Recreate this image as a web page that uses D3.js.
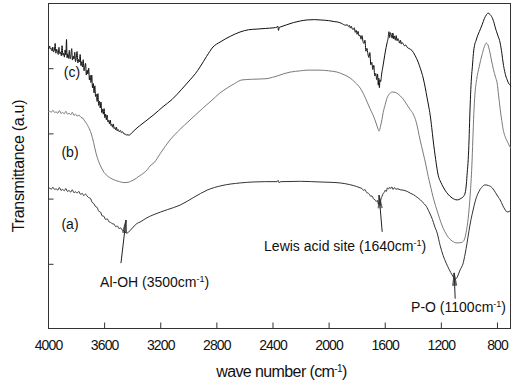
<!DOCTYPE html>
<html>
<head>
<meta charset="utf-8">
<script src="https://cdn.jsdelivr.net/npm/d3@7"></script>
<style>
  html, body { margin: 0; padding: 0; background: #fff; }
  svg { display: block; font-family: Arial, "Liberation Sans", sans-serif; }
</style>
</head>
<body>
<svg id="chart" width="516" height="384"></svg>
<script>
// FTIR spectra: [wavenumber (cm-1), transmittance (a.u.)]
const seriesC = [
  [4000,86.2],[3994,86.0],[3988,86.8],[3983,85.9],[3977,86.1],[3971,85.3],[3966,86.5],[3961,85.0],
  [3955,85.4],[3949,87.6],[3944,84.6],[3938,85.8],[3933,85.1],[3927,84.2],[3922,86.4],[3916,84.5],
  [3911,85.0],[3905,83.8],[3900,86.9],[3894,84.0],[3889,84.6],[3883,83.4],[3878,85.6],[3873,84.1],
  [3868,88.8],[3864,83.2],[3859,84.4],[3853,83.0],[3848,85.5],[3842,82.9],[3837,83.9],[3831,86.0],
  [3826,82.5],[3820,83.7],[3815,82.8],[3809,84.9],[3804,82.0],[3798,83.3],[3793,85.1],[3787,81.6],
  [3782,82.7],[3776,81.9],[3771,84.2],[3765,80.8],[3760,82.0],[3754,80.4],[3749,82.6],[3743,79.2],
  [3738,80.3],[3732,81.5],[3727,77.9],[3721,79.4],[3716,78.2],[3710,80.0],[3705,76.4],[3699,77.8],
  [3694,75.6],[3688,77.9],[3683,74.0],[3677,75.3],[3672,72.4],[3666,74.6],[3661,71.3],[3655,72.0],
  [3650,69.8],[3644,72.2],[3639,68.6],[3633,69.9],[3628,67.8],[3622,69.6],[3617,66.4],[3611,67.5],
  [3606,65.9],[3600,67.6],[3595,64.8],[3589,65.9],[3584,64.2],[3578,65.6],[3573,63.5],[3567,64.0],
  [3562,62.9],[3556,64.1],[3551,62.4],[3545,62.8],[3540,61.9],[3534,62.9],[3529,61.5],[3523,61.8],
  [3518,61.1],[3512,61.9],[3507,60.8],[3500,61.2],[3492,60.5],[3484,60.9],[3476,60.2],[3468,60.5],
  [3460,59.9],[3450,59.8],[3440,59.5],[3430,59.6],[3422,59.4],
  [3405,60.1],[3385,60.9],[3365,61.7],[3330,62.9],[3294,64.1],[3244,65.8],[3180,68.2],[3116,70.4],
  [3050,73.4],[2988,76.4],[2950,78.3],[2916,80.4],[2870,83.6],[2824,86.5],[2774,88.0],[2700,89.8],
  [2631,91.1],[2570,91.8],[2510,92.0],[2450,92.2],[2390,92.4],[2368,92.6],[2362,92.9],[2357,91.6],
  [2352,92.5],[2340,92.7],[2300,93.3],[2250,94.0],[2200,94.5],[2153,94.8],[2100,94.9],[2061,94.8],
  [2000,94.6],[1960,94.3],[1939,94.2],[1910,93.8],[1880,93.2],[1866,93.3],[1859,92.8],[1851,93.1],
  [1845,92.3],[1838,92.9],[1831,92.0],[1824,91.9],[1817,92.4],[1810,91.0],[1803,91.6],[1797,90.4],
  [1790,91.3],[1783,89.9],[1776,90.1],[1769,88.9],[1762,90.0],[1755,88.2],[1748,87.6],[1741,88.6],
  [1734,85.2],[1727,86.1],[1720,84.4],[1713,83.3],[1706,84.8],[1699,81.0],[1692,81.8],[1685,79.6],
  [1678,80.9],[1671,77.6],[1664,78.4],[1657,76.5],[1651,78.2],[1646,74.8],[1642,76.9],[1638,74.0],
  [1634,76.4],[1629,75.9],[1622,78.2],[1611,81.0],[1600,84.0],[1590,86.4],[1583,87.8],[1576,89.2],
  [1570,91.2],[1565,89.4],[1559,90.9],[1553,90.2],[1547,89.2],[1542,90.8],[1536,89.0],[1530,89.9],
  [1524,88.6],[1518,90.0],[1512,88.4],[1506,89.1],[1500,88.5],[1494,87.7],[1488,88.6],[1482,87.4],
  [1476,87.9],[1469,87.5],[1460,86.9],[1450,87.1],[1440,86.4],[1425,86.0],[1405,85.4],[1385,84.0],
  [1362,81.9],[1345,79.8],[1326,77.0],[1312,74.2],[1298,70.9],[1287,68.4],[1276,65.6],[1265,61.8],
  [1255,58.0],[1237,52.0],[1219,47.2],[1200,45.0],[1184,43.6],[1150,41.4],[1120,40.2],[1084,39.6],
  [1055,40.1],[1040,40.6],[1027,41.7],[1018,44.5],[1012,48.0],[1005,52.0],[999,58.0],[994,65.0],
  [988,72.0],[982,77.0],[975,80.6],[968,84.5],[960,87.0],[950,88.4],[941,89.6],[925,91.3],
  [906,93.3],[890,95.2],[875,96.4],[863,96.9],[850,96.5],[834,95.5],[820,93.8],[813,92.6],
  [795,90.2],[777,87.7],[765,84.5],[756,81.6],[745,79.0],[735,77.3],[727,76.4],[715,75.2],
  [706,74.8],[700,74.5]
];

const seriesB = [
  [4000,66.6],[3988,66.8],[3976,66.5],[3965,67.1],[3953,66.4],[3942,66.6],[3930,66.2],[3919,67.0],
  [3907,66.1],[3896,66.4],[3884,66.0],[3873,66.8],[3861,65.9],[3850,66.2],[3838,65.7],[3827,66.5],
  [3815,65.5],[3804,65.9],[3793,65.3],[3780,65.6],[3765,64.9],[3750,64.6],[3743,64.1],[3725,63.0],
  [3710,61.8],[3693,60.1],[3675,57.2],[3658,54.0],[3640,51.5],[3622,49.7],[3600,48.0],[3575,46.9],
  [3551,46.2],[3520,45.6],[3490,45.2],[3458,44.9],[3430,45.0],[3410,45.3],[3387,45.8],[3350,46.9],
  [3316,47.9],[3290,49.0],[3273,50.0],[3244,51.0],[3200,53.8],[3130,58.0],[3060,61.2],[2988,64.1],
  [2900,67.6],[2831,70.2],[2780,72.2],[2724,73.9],[2670,75.3],[2617,76.4],[2550,76.6],[2480,76.7],
  [2439,76.8],[2400,77.2],[2367,77.6],[2320,78.3],[2275,78.8],[2200,79.2],[2153,79.4],[2061,79.4],
  [2000,79.2],[1939,78.8],[1890,78.0],[1847,77.0],[1810,75.6],[1775,73.9],[1750,72.0],[1725,69.6],
  [1705,67.6],[1683,65.6],[1662,63.2],[1648,61.4],[1640,60.7],[1630,62.2],[1620,64.2],[1611,66.4],
  [1597,68.8],[1583,70.9],[1565,72.2],[1547,72.7],[1526,72.6],[1505,72.1],[1470,70.6],[1440,68.7],
  [1420,67.4],[1398,66.0],[1375,63.4],[1348,58.0],[1326,54.0],[1305,50.0],[1290,46.8],[1276,44.2],
  [1250,39.6],[1226,36.2],[1190,31.6],[1155,28.6],[1120,27.0],[1084,26.4],[1055,26.5],[1035,27.2],
  [1020,29.6],[1005,34.0],[991,41.1],[979,50.0],[972,58.0],[965,66.0],[957,72.0],[945,76.5],
  [927,80.4],[906,84.2],[890,86.6],[877,87.7],[865,87.2],[852,85.2],[841,82.8],[825,79.6],
  [810,77.2],[799,75.5],[788,71.5],[777,67.4],[766,64.0],[756,61.2],[745,59.4],[734,58.2],
  [720,57.0],[710,56.0],[700,55.5]
];

const seriesA = [
  [4000,43.0],[3988,43.2],[3976,42.9],[3965,43.5],[3953,42.8],[3942,43.0],[3930,42.6],[3919,43.4],
  [3907,42.5],[3896,42.8],[3884,42.4],[3873,43.1],[3861,42.2],[3850,42.5],[3838,42.0],[3827,42.7],
  [3815,41.8],[3804,42.1],[3793,41.7],[3780,42.2],[3768,41.3],[3756,41.6],[3745,40.9],[3733,41.4],
  [3722,40.8],[3710,40.3],[3698,40.1],[3686,38.9],[3674,38.5],[3662,37.6],[3650,37.3],[3638,36.1],
  [3626,35.9],[3614,34.7],[3602,34.6],[3590,33.6],[3578,33.8],[3566,32.9],[3554,32.7],[3542,32.3],
  [3530,32.2],[3518,31.4],[3506,31.6],[3494,30.8],[3482,31.0],[3470,30.3],[3458,30.1],[3446,29.6],
  [3437,29.4],[3425,29.8],[3410,30.4],[3395,31.2],[3380,31.8],[3365,32.4],[3344,32.8],[3300,34.0],
  [3251,35.0],[3150,36.6],[3059,38.0],[2960,40.4],[2866,42.6],[2760,44.0],[2631,44.8],[2538,45.1],
  [2450,45.2],[2367,45.2],[2360,45.6],[2354,44.9],[2340,45.2],[2200,45.3],[2061,45.1],[1990,45.0],
  [1918,44.8],[1850,44.3],[1800,43.7],[1775,43.3],[1762,43.1],[1751,42.5],[1741,42.8],[1730,41.9],
  [1720,41.7],[1710,41.4],[1700,40.7],[1690,40.8],[1680,39.9],[1670,39.7],[1660,39.1],[1652,39.5],
  [1645,38.3],[1640,38.9],[1634,37.9],[1628,39.6],[1620,40.6],[1611,41.6],[1603,41.9],[1596,42.6],
  [1589,42.2],[1581,43.3],[1573,42.9],[1565,43.5],[1557,43.1],[1549,43.6],[1541,42.8],[1531,43.4],
  [1521,42.9],[1506,43.0],[1490,42.7],[1469,42.6],[1440,42.2],[1419,41.7],[1395,41.2],[1369,40.4],
  [1345,39.6],[1326,38.7],[1310,38.0],[1298,37.2],[1280,35.6],[1260,33.6],[1245,31.6],[1226,29.4],
  [1205,25.6],[1184,22.6],[1162,20.2],[1140,18.2],[1120,16.6],[1105,15.6],[1098,15.2],[1085,15.8],
  [1063,18.1],[1041,20.2],[1027,23.0],[1013,26.4],[1000,30.0],[985,33.6],[970,36.5],[955,39.2],
  [934,41.7],[910,43.4],[885,44.2],[860,44.0],[834,43.3],[810,41.8],[790,40.4],[777,39.6],
  [760,38.0],[745,36.8],[727,35.9],[715,36.0],[700,36.5]
];

const xTickValues = [4000, 3600, 3200, 2800, 2400, 2000, 1600, 1200, 800];
const yTickValues = [20, 40, 60, 80];

// sample curves, bottom to top
const spectra = [
  { name: "(a)", data: seriesA, color: "#333", labelAt: [3843, 30.7] },
  { name: "(b)", data: seriesB, color: "#7a7a7a", labelAt: [3843, 52.8] },
  { name: "(c)", data: seriesC, color: "#111", labelAt: [3829, 77.3] }
];

// band assignments with arrows (tail -> tip, in wavenumber / transmittance)
const bands = [
  { text: "Al-OH (3500cm", textAt: [3629, 12.9], tail: [3480, 20.2], tip: [3444, 33.4] },
  { text: "Lewis acid site (1640cm", textAt: [2460, 23.9], tail: [1618, 29.8], tip: [1640, 41.0] },
  { text: "P-O (1100cm", textAt: [1412, 5.2], tail: [1098, 9.3], tip: [1105, 17.2] }
];

const W = 516, H = 384;
const margin = { top: 3, right: 5, bottom: 55, left: 48 };
const svg = d3.select("#chart");

const x = d3.scaleLinear().domain([4000, 700]).range([margin.left, W - margin.right]);
const y = d3.scaleLinear().domain([0, 100]).range([H - margin.bottom, margin.top]);

const axisColor = "#333";

// frame
svg.append("rect")
  .attr("x", margin.left + 0.5).attr("y", margin.top + 0.5)
  .attr("width", W - margin.right - margin.left - 1)
  .attr("height", H - margin.bottom - margin.top - 1)
  .attr("fill", "none").attr("stroke", axisColor).attr("stroke-width", 1);

// bottom axis: inward ticks, labels below
const xAxis = svg.append("g")
  .attr("transform", `translate(0,${H - margin.bottom - 0.5})`)
  .call(d3.axisBottom(x).tickValues(xTickValues).tickSizeInner(-6).tickSizeOuter(0).tickPadding(12).tickFormat(d3.format("d")));
xAxis.select(".domain").remove();
xAxis.selectAll("line").attr("stroke", axisColor);
xAxis.selectAll("text")
  .attr("fill", "#111").attr("font-size", 14).attr("letter-spacing", "-0.9px")
  .attr("font-family", "Arial, 'Liberation Sans', sans-serif");

// left axis: inward ticks, no labels
const yAxis = svg.append("g")
  .attr("transform", `translate(${margin.left + 0.5},0)`)
  .call(d3.axisLeft(y).tickValues(yTickValues).tickSizeInner(-5).tickSizeOuter(0).tickFormat(""));
yAxis.select(".domain").remove();
yAxis.selectAll("line").attr("stroke", axisColor);

// axis titles
const xTitle = svg.append("text")
  .attr("x", (margin.left + W - margin.right) / 2 + 2).attr("y", 377)
  .attr("text-anchor", "middle").attr("font-size", 16).attr("letter-spacing", "-0.6px").attr("fill", "#111");
xTitle.append("tspan").text("wave number (cm");
xTitle.append("tspan").attr("font-size", 10).attr("baseline-shift", "super").text("-1");
xTitle.append("tspan").text(")");

svg.append("text")
  .attr("transform", `translate(24,${(margin.top + H - margin.bottom) / 2}) rotate(-90)`)
  .attr("text-anchor", "middle").attr("font-size", 16).attr("letter-spacing", "-0.3px").attr("fill", "#111")
  .text("Transmittance (a.u)");

// spectra
const line = d3.line()
  .x(d => x(d[0]))
  .y(d => y(d[1]))
  .curve(d3.curveMonotoneX);

svg.append("g").selectAll("path")
  .data(spectra)
  .join("path")
  .attr("d", d => line(d.data))
  .attr("fill", "none")
  .attr("stroke", d => d.color)
  .attr("stroke-width", 1)
  .attr("stroke-linejoin", "round");

svg.append("g").selectAll("text")
  .data(spectra)
  .join("text")
  .attr("x", d => x(d.labelAt[0]))
  .attr("y", d => y(d.labelAt[1]))
  .attr("text-anchor", "middle")
  .attr("font-size", 14).attr("fill", "#111")
  .text(d => d.name);

// band annotations
const ann = svg.append("g");
bands.forEach(b => {
  const t = ann.append("text")
    .attr("x", x(b.textAt[0])).attr("y", y(b.textAt[1]))
    .attr("font-size", 14).attr("letter-spacing", "0px").attr("fill", "#111");
  t.append("tspan").text(b.text);
  t.append("tspan").attr("font-size", 9).attr("baseline-shift", "super").text("-1");
  t.append("tspan").text(")");

  const x0 = x(b.tail[0]), y0 = y(b.tail[1]);
  const x1 = x(b.tip[0]), y1 = y(b.tip[1]);
  ann.append("line")
    .attr("x1", x0).attr("y1", y0).attr("x2", x1).attr("y2", y1)
    .attr("stroke", "#222").attr("stroke-width", 1);
  const ang = Math.atan2(y0 - y1, x0 - x1);
  const len = 13, spread = 0.16;
  const head = [-spread, -spread / 2, spread / 2, spread].map(a => [
    x1 + len * Math.cos(ang + a), y1 + len * Math.sin(ang + a)
  ]);
  head.forEach(p => {
    ann.append("line")
      .attr("x1", x1).attr("y1", y1).attr("x2", p[0]).attr("y2", p[1])
      .attr("stroke", "#333").attr("stroke-width", 0.8);
  });
});
</script>
</body>
</html>
